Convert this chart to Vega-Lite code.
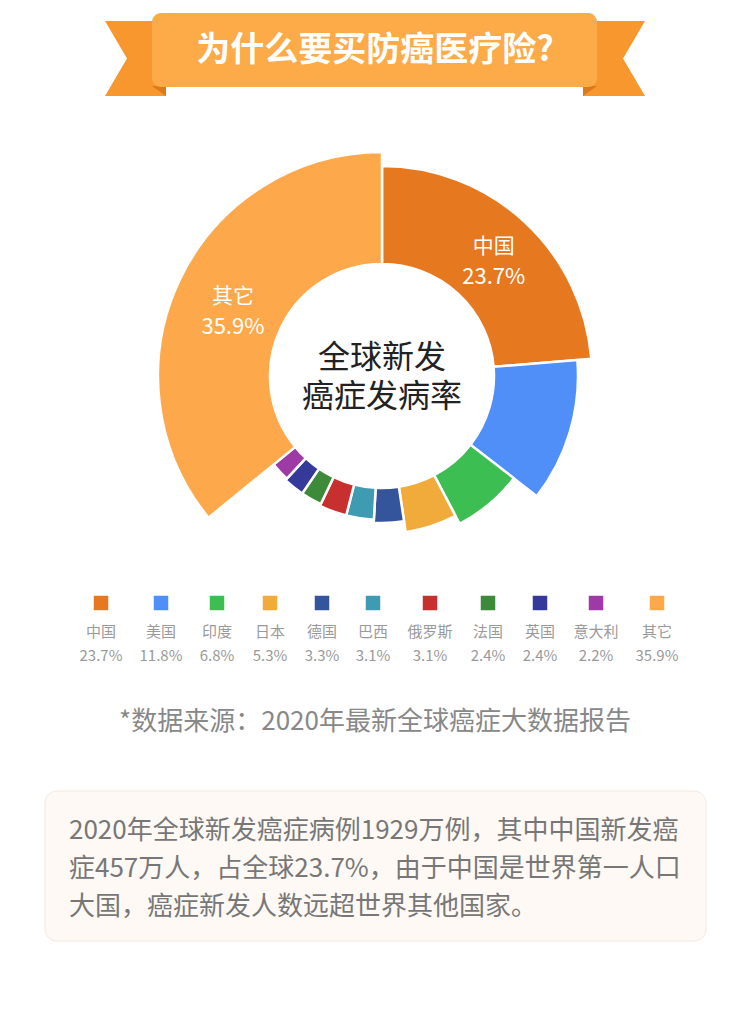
{
  "$schema": "https://vega.github.io/schema/vega-lite/v6.json",
  "width": 750,
  "height": 1012,
  "padding": 0,
  "autosize": {"type": "none"},
  "background": "#ffffff",
  "config": {"view": {"stroke": null}, "font": "Noto Sans CJK SC"},
  "datasets": {
    "cancer": [
      {"name": "中国", "share": 0.237, "order": 0},
      {"name": "美国", "share": 0.118, "order": 1},
      {"name": "印度", "share": 0.068, "order": 2},
      {"name": "日本", "share": 0.053, "order": 3},
      {"name": "德国", "share": 0.033, "order": 4},
      {"name": "巴西", "share": 0.031, "order": 5},
      {"name": "俄罗斯", "share": 0.031, "order": 6},
      {"name": "法国", "share": 0.024, "order": 7},
      {"name": "英国", "share": 0.024, "order": 8},
      {"name": "意大利", "share": 0.022, "order": 9},
      {"name": "其它", "share": 0.359, "order": 10}
    ]
  },
  "data": {"name": "cancer"},
  "layer": [
    {
      "data": {"values": [{}]},
      "mark": {"type": "point", "shape": "M105,21L166,21L166,96L105,96L127,58.5Z", "size": 4, "x": 0, "y": 0, "filled": true, "fill": "#F7972D", "strokeWidth": 0, "opacity": 1}
    },
    {
      "data": {"values": [{}]},
      "mark": {"type": "point", "shape": "M583,21L645,21L623,58.5L645,96L583,96Z", "size": 4, "x": 0, "y": 0, "filled": true, "fill": "#F7972D", "strokeWidth": 0, "opacity": 1}
    },
    {
      "data": {"values": [{}]},
      "mark": {"type": "point", "shape": "M152,86L166,86L166,96Z", "size": 4, "x": 0, "y": 0, "filled": true, "fill": "#DA7A1B", "strokeWidth": 0, "opacity": 1}
    },
    {
      "data": {"values": [{}]},
      "mark": {"type": "point", "shape": "M597,86L583,86L583,96Z", "size": 4, "x": 0, "y": 0, "filled": true, "fill": "#DA7A1B", "strokeWidth": 0, "opacity": 1}
    },
    {
      "data": {"values": [{}]},
      "mark": {"type": "rect", "x": 152, "x2": 597, "y": 13, "y2": 87, "cornerRadius": 9, "fill": "#FDAA49"}
    },
    {
      "data": {"values": [{}]},
      "mark": {"type": "text", "text": "为什么要买防癌医疗险?", "x": 375, "y": 51, "align": "center", "baseline": "middle", "fontSize": 34, "fontWeight": "bold", "fill": "#ffffff"}
    },
    {
      "mark": {"type": "arc", "innerRadius": 112, "x": 382, "y": 376, "stroke": "#ffffff", "strokeWidth": 2.5},
      "encoding": {
        "theta": {"field": "share", "type": "quantitative", "stack": true},
        "radius": {"field": "share", "type": "quantitative", "scale": {"type": "linear", "zero": false, "domain": [0.022, 0.024, 0.031, 0.033, 0.053, 0.068, 0.118, 0.237, 0.359], "range": [140, 142, 144, 147, 158, 167, 196, 210, 224]}},
        "color": {"field": "name", "type": "nominal", "legend": null, "scale": {"domain": ["中国", "美国", "印度", "日本", "德国", "巴西", "俄罗斯", "法国", "英国", "意大利", "其它"], "range": ["#E67820", "#4F8FF7", "#3DBE52", "#F1AB3A", "#34549C", "#3E9BB1", "#C7302E", "#3D8A3A", "#34399A", "#9D3AA6", "#FDA84A"]}},
        "order": {"field": "order", "type": "quantitative"}
      }
    },
    {
      "mark": {"type": "text", "radius": 165, "x": 382, "y": 376, "dy": -8, "fontSize": 21, "fill": "#ffffff", "align": "center", "baseline": "middle"},
      "encoding": {
        "theta": {"field": "share", "type": "quantitative", "stack": true},
        "order": {"field": "order", "type": "quantitative"},
        "text": {"condition": {"test": "datum.name === '中国' || datum.name === '其它'", "field": "name"}, "value": ""}
      }
    },
    {
      "mark": {"type": "text", "radius": 165, "x": 382, "y": 376, "dy": 22, "fontSize": 22, "fill": "#ffffff", "align": "center", "baseline": "middle"},
      "encoding": {
        "theta": {"field": "share", "type": "quantitative", "stack": true},
        "order": {"field": "order", "type": "quantitative"},
        "text": {"condition": {"test": "datum.name === '中国' || datum.name === '其它'", "field": "share", "format": ".1%"}, "value": ""}
      }
    },
    {
      "data": {"values": [{}]},
      "mark": {"type": "text", "text": "全球新发", "x": 382, "y": 358, "align": "center", "baseline": "middle", "fontSize": 32, "fill": "#222222"}
    },
    {
      "data": {"values": [{}]},
      "mark": {"type": "text", "text": "癌症发病率", "x": 382, "y": 397, "align": "center", "baseline": "middle", "fontSize": 32, "fill": "#222222"}
    },
    {
      "mark": {"type": "point", "shape": "square", "size": 210, "y": 603, "filled": true, "opacity": 1, "strokeWidth": 0},
      "encoding": {
        "x": {"field": "order", "type": "quantitative", "axis": null, "scale": {"domain": [0, 1, 2, 3, 4, 5, 6, 7, 8, 9, 10], "range": [101, 161, 217, 270, 322, 373, 430, 488, 540, 596, 657]}},
        "color": {"field": "name", "type": "nominal", "legend": null}
      }
    },
    {
      "mark": {"type": "text", "y": 632, "fontSize": 15, "fill": "#9a9a9a", "align": "center", "baseline": "middle"},
      "encoding": {
        "x": {"field": "order", "type": "quantitative", "axis": null},
        "text": {"field": "name"}
      }
    },
    {
      "mark": {"type": "text", "y": 656, "fontSize": 15, "fill": "#9a9a9a", "align": "center", "baseline": "middle"},
      "encoding": {
        "x": {"field": "order", "type": "quantitative", "axis": null},
        "text": {"field": "share", "format": ".1%"}
      }
    },
    {
      "data": {"values": [{}]},
      "mark": {"type": "text", "text": "*数据来源：2020年最新全球癌症大数据报告", "x": 375, "y": 722, "align": "center", "baseline": "middle", "fontSize": 26, "fill": "#888888"}
    },
    {
      "data": {"values": [{}]},
      "mark": {"type": "rect", "x": 45, "x2": 706, "y": 791, "y2": 941, "cornerRadius": 12, "fill": "#FEF9F5", "stroke": "#F6E8DC", "strokeWidth": 1}
    },
    {
      "data": {"values": [{}]},
      "mark": {"type": "text", "text": "2020年全球新发癌症病例1929万例，其中中国新发癌", "x": 69, "y": 831, "align": "left", "baseline": "middle", "fontSize": 26, "fill": "#777777"}
    },
    {
      "data": {"values": [{}]},
      "mark": {"type": "text", "text": "症457万人，占全球23.7%，由于中国是世界第一人口", "x": 69, "y": 869, "align": "left", "baseline": "middle", "fontSize": 26, "fill": "#777777"}
    },
    {
      "data": {"values": [{}]},
      "mark": {"type": "text", "text": "大国，癌症新发人数远超世界其他国家。", "x": 69, "y": 907, "align": "left", "baseline": "middle", "fontSize": 26, "fill": "#777777"}
    }
  ]
}
